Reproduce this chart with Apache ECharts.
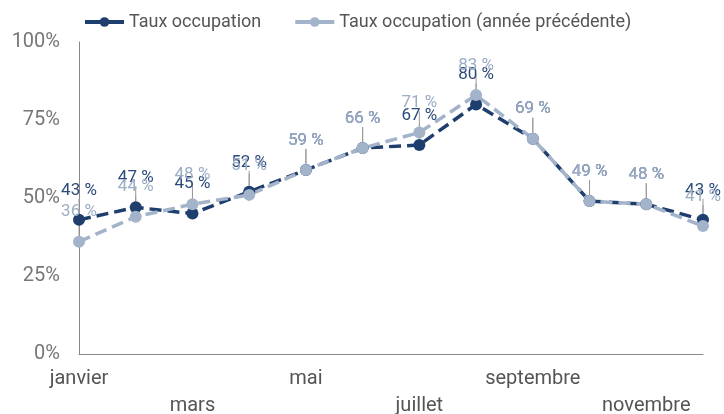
<!DOCTYPE html>
<html>
<head>
<meta charset="utf-8">
<script src="https://cdn.jsdelivr.net/npm/echarts@6/dist/echarts.min.js"></script>
<style>
  html, body { margin: 0; padding: 0; background: #fff; }
  #main { width: 724px; height: 414px; }
</style>
</head>
<body>
<div id="main"></div>
<script>
const mois = ["janvier", "février", "mars", "avril", "mai", "juin", "juillet", "août", "septembre", "octobre", "novembre", "décembre"];
const tauxOccupation = [43, 47, 45, 52, 59, 66, 67, 80, 69, 49, 48, 43];
const tauxPrecedent = [36, 44, 48, 51, 59, 66, 71, 83, 69, 49, 48, 41];
const yTicks = [0, 25, 50, 75, 100];

const fonte = "Roboto, 'Noto Sans', sans-serif";
const foncé = "#1e3e6e";
const clair = "#a3b3ca";

function serie(nom, data, couleur, couleurLabel) {
  return {
    name: nom,
    type: "line",
    data: data,
    symbol: "circle",
    symbolSize: 12,
    itemStyle: { color: couleur },
    lineStyle: { color: couleur, width: 3.5, type: [12, 6] },
    label: {
      show: true,
      position: "top",
      distance: 6,
      formatter: "{c} %",
      color: couleurLabel,
      fontSize: 17,
      fontFamily: fonte,
    },
    labelLayout: { dy: -9 },
    labelLine: { show: true, lineStyle: { color: "#999", width: 1 } },
  };
}

const chart = echarts.init(document.getElementById("main"));
chart.setOption({
  animation: false,
  legend: {
    top: 8,
    left: 78,
    itemWidth: 39,
    itemHeight: 12,
    itemGap: 32,
    lineStyle: { type: "solid", width: 4 },
    textStyle: { color: "#555", fontSize: 18, fontFamily: fonte },
    data: ["Taux occupation", "Taux occupation (année précédente)"],
  },
  grid: { left: 79, right: 21, top: 42, bottom: 60, outerBoundsMode: "none" },
  xAxis: {
    type: "category",
    data: mois,
    boundaryGap: false,
    axisTick: { show: false },
    axisLine: { lineStyle: { color: "#888" } },
    axisLabel: {
      interval: 1,
      margin: 11,
      color: "#555",
      fontSize: 20,
      fontFamily: fonte,
      lineHeight: 27,
      formatter: function (v, i) {
        return i % 4 === 2 ? "\n" + v : v;
      },
    },
  },
  yAxis: {
    type: "value",
    min: yTicks[0],
    max: yTicks[yTicks.length - 1],
    interval: 25,
    splitLine: { show: false },
    axisTick: { show: false },
    axisLine: { show: true, lineStyle: { color: "#888" } },
    axisLabel: {
      formatter: "{value}%",
      color: "#777",
      fontSize: 20,
      fontFamily: fonte,
      margin: 19,
    },
  },
  series: [
    serie("Taux occupation", tauxOccupation, foncé, "#2b4a7a"),
    serie("Taux occupation (année précédente)", tauxPrecedent, clair, "#9cadc5"),
  ],
});
</script>
</body>
</html>
